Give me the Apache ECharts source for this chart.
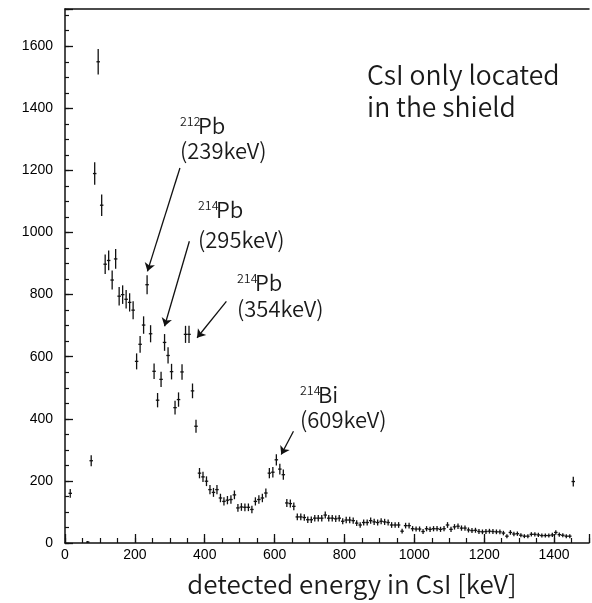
<!DOCTYPE html>
<html>
<head>
<meta charset="utf-8">
<script src="https://cdn.jsdelivr.net/npm/echarts@6/dist/echarts.min.js"></script>
<style>
  html, body { margin: 0; padding: 0; background: #fff; }
  #chart { width: 592px; height: 603px; }
</style>
</head>
<body>
<div id="chart"></div>
<script>
// Histogram bins (keV, 10 keV wide) and counts per bin
const binCenters = [
  15, 65, 75, 85, 95, 105, 115, 125, 135, 145,
  155, 165, 175, 185, 195, 205, 215, 225, 235, 245,
  255, 265, 275, 285, 295, 305, 315, 325, 335, 345,
  355, 365, 375, 385, 395, 405, 415, 425, 435, 445,
  455, 465, 475, 485, 495, 505, 515, 525, 535, 545,
  555, 565, 575, 585, 595, 605, 615, 625, 635, 645,
  655, 665, 675, 685, 695, 705, 715, 725, 735, 745,
  755, 765, 775, 785, 795, 805, 815, 825, 835, 845,
  855, 865, 875, 885, 895, 905, 915, 925, 935, 945,
  955, 965, 975, 985, 995, 1005, 1015, 1025, 1035, 1045,
  1055, 1065, 1075, 1085, 1095, 1105, 1115, 1125, 1135, 1145,
  1155, 1165, 1175, 1185, 1195, 1205, 1215, 1225, 1235, 1245,
  1255, 1265, 1275, 1285, 1295, 1305, 1315, 1325, 1335, 1345,
  1355, 1365, 1375, 1385, 1395, 1405, 1415, 1425, 1435, 1445,
  1455
];
const counts = [
  160, 3, 265, 1190, 1550, 1088, 898, 910, 847, 915,
  795, 800, 785, 775, 750, 585, 640, 702, 832, 674,
  553, 460, 527, 646, 604, 552, 436, 462, 551, 672,
  672, 490, 376, 225, 213, 199, 172, 163, 172, 145,
  134, 138, 140, 155, 113, 116, 115, 115, 108, 134,
  140, 145, 161, 225, 228, 268, 238, 220, 129, 127,
  118, 84, 84, 82, 75, 75, 80, 80, 80, 90,
  80, 80, 78, 80, 70, 74, 74, 72, 64, 58,
  66, 66, 72, 68, 66, 70, 68, 66, 58, 58,
  58, 38, 56, 56, 46, 45, 45, 37, 46, 44,
  46, 46, 44, 46, 58, 44, 52, 54, 48, 48,
  42, 40, 41, 37, 36, 37, 38, 37, 36, 36,
  32, 22, 34, 29, 30, 25, 22, 22, 28, 28,
  26, 24, 24, 24, 26, 34, 27, 25, 22, 22,
  198
];
const binWidth = 10;

// Peak annotations: arrow tail and head in (keV, counts)
const peakArrows = [
  [[329, 1208], [236, 875]],
  [[356, 972], [285, 698]],
  [[462, 778], [378, 661]],
  [[654, 360], [619, 285]]
];

const ink = '#111';
const textFont = '"Noto Sans CJK JP", "Noto Sans", sans-serif';
const tickFont = '"Liberation Sans", Arial, sans-serif';

const chart = echarts.init(document.getElementById('chart'), null, { renderer: 'canvas' });

function errorCross(params, api) {
  const x = api.value(0);
  const y = api.value(1);
  const err = Math.sqrt(y);
  const c = api.coord([x, y]);
  const hi = api.coord([x, y + err]);
  const lo = api.coord([x, Math.max(0, y - err)]);
  const l = api.coord([x - binWidth / 2, y]);
  const r = api.coord([x + binWidth / 2, y]);
  const st = { stroke: ink, lineWidth: 1.3 };
  return {
    type: 'group',
    children: [
      { type: 'line', shape: { x1: c[0], y1: hi[1] - 0.5, x2: c[0], y2: lo[1] + 0.5 }, style: st },
      { type: 'line', shape: { x1: l[0], y1: c[1], x2: r[0], y2: c[1] }, style: st }
    ]
  };
}

function label(text, x, y, size, align) {
  return {
    type: 'text', x: x, y: y, silent: true,
    style: {
      text: text, font: '350 ' + size + 'px ' + textFont, fill: '#1a1a1a',
      verticalAlign: 'middle', align: align || 'left'
    }
  };
}

const xCommon = { type: 'value', min: 0, max: 1500, splitLine: { show: false } };
const yCommon = { type: 'value', min: 0, max: 1720, splitLine: { show: false } };

chart.setOption({
  animation: false,
  backgroundColor: '#fff',
  grid: { left: 65, right: -8, top: 9, bottom: 60 },
  xAxis: [
    Object.assign({}, xCommon, {
      position: 'bottom', interval: 200,
      axisLine: { show: true, onZero: false, lineStyle: { color: ink, width: 1.5 } },
      axisTick: { show: true, inside: true, length: 9, lineStyle: { color: ink, width: 1.3 } },
      axisLabel: {
        margin: 5, color: '#000', fontFamily: tickFont, fontSize: 14,
        formatter: v => (v % 200 === 0 && v <= 1400) ? String(v) : ''
      }
    }),
    Object.assign({}, xCommon, {
      position: 'bottom', interval: 50,
      axisLine: { show: false, onZero: false },
      axisTick: { show: true, inside: true, length: 5, lineStyle: { color: ink, width: 1.2 } },
      axisLabel: { show: false }
    }),
    Object.assign({}, xCommon, {
      position: 'top',
      axisLine: { show: true, onZero: false, lineStyle: { color: ink, width: 1.5 } },
      axisTick: { show: false },
      axisLabel: { show: false }
    })
  ],
  yAxis: [
    Object.assign({}, yCommon, {
      position: 'left', interval: 200,
      axisLine: { show: true, onZero: false, lineStyle: { color: ink, width: 1.5 } },
      axisTick: { show: true, inside: true, length: 8, lineStyle: { color: ink, width: 1.3 } },
      axisLabel: {
        margin: 12, color: '#000', fontFamily: tickFont, fontSize: 14,
        formatter: v => (v % 200 === 0 && v <= 1600) ? String(v) : ''
      }
    }),
    Object.assign({}, yCommon, {
      position: 'left', interval: 50,
      axisLine: { show: false, onZero: false },
      axisTick: { show: true, inside: true, length: 4, lineStyle: { color: ink, width: 1.2 } },
      axisLabel: { show: false }
    })
  ],
  series: [
    {
      type: 'custom',
      xAxisIndex: 0, yAxisIndex: 0,
      renderItem: errorCross,
      encode: { x: 0, y: 1 },
      data: binCenters.map((e, i) => [e, counts[i]]),
      silent: true
    },
    {
      type: 'scatter',
      xAxisIndex: 0, yAxisIndex: 0,
      data: [],
      silent: true,
      markLine: {
        silent: true,
        symbol: ['none', 'arrow'],
        symbolSize: 8,
        label: { show: false },
        lineStyle: { color: ink, width: 1.3, type: 'solid' },
        data: peakArrows.map(a => [{ coord: a[0] }, { coord: a[1] }])
      }
    }
  ],
  graphic: [
    label('CsI only located', 367, 75, 26.5),
    label('in the shield', 367, 107, 26.5),

    label('212', 180, 121, 12.5),
    label('Pb', 198, 126, 22),
    label('(239keV)', 180, 151, 22),

    label('214', 198, 205, 12.5),
    label('Pb', 216, 210, 22),
    label('(295keV)', 198, 240, 22),

    label('214', 237, 278, 12.5),
    label('Pb', 255, 283, 22),
    label('(354keV)', 237, 309, 22),

    label('214', 300, 390, 12.5),
    label('Bi', 318, 395, 22),
    label('(609keV)', 300, 420, 22),

    label('detected energy in CsI [keV]', 352, 584, 26, 'center')
  ]
});
</script>
</body>
</html>
